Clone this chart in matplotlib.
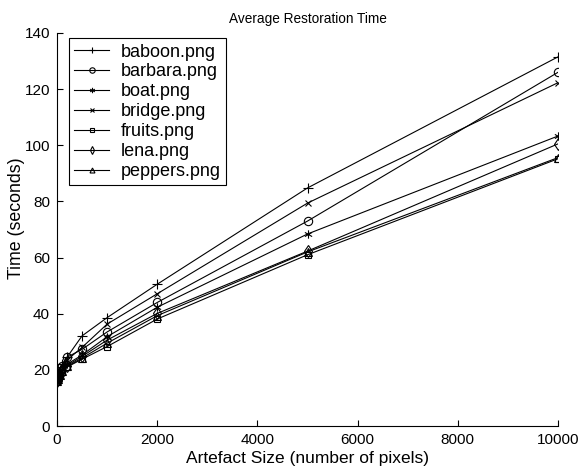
import numpy as np
import matplotlib
matplotlib.use('Agg')
import matplotlib.pyplot as plt
from matplotlib.path import Path

plt.rcParams['font.family'] = ['Liberation Sans', 'DejaVu Sans']

# artefact sizes (pixels)
sizes = [1, 10, 25, 50, 100, 200, 500, 1000, 2000, 5000, 10000]

# average restoration time (seconds) per image
baboon = [16.5, 17.5, 18.5, 20.0, 22.0, 24.5, 32.1, 38.6, 50.5, 84.8, 131.5]
barbara = [16.2, 17.0, 18.0, 19.5, 21.5, 24.5, 27.3, 33.5, 44.0, 73.0, 126.0]
boat = [16.0, 16.8, 17.5, 18.5, 20.0, 22.0, 25.3, 31.8, 42.3, 68.4, 103.3]
bridge = [16.3, 17.2, 18.2, 19.5, 21.5, 23.5, 28.0, 36.3, 47.1, 79.4, 122.3]
fruits = [15.8, 16.5, 17.2, 18.0, 19.3, 21.0, 23.8, 28.3, 38.1, 61.0, 95.2]
lena = [16.0, 16.7, 17.4, 18.3, 19.8, 21.5, 24.8, 30.6, 40.1, 62.3, 100.5]
peppers = [15.9, 16.6, 17.3, 18.2, 19.5, 21.2, 24.2, 29.5, 39.3, 62.0, 95.6]

names = ['baboon.png', 'barbara.png', 'boat.png', 'bridge.png',
         'fruits.png', 'lena.png', 'peppers.png']
series = [baboon, barbara, boat, bridge, fruits, lena, peppers]

# matlab style asterisk: three crossing strokes
ang = np.deg2rad([90, 30, 150])
verts, codes = [], []
for a in ang:
    verts += [(np.cos(a), np.sin(a)), (-np.cos(a), -np.sin(a))]
    codes += [Path.MOVETO, Path.LINETO]
star = Path(verts, codes)

markers = ['+', 'o', star, 'x', 's', 'd', '^']
msizes = [7, 6, 6, 5, 4.5, 6, 5.5]

fig = plt.figure(figsize=(5.84, 4.73), dpi=100)
ax = fig.add_axes([57 / 584, 47 / 473, 501 / 584, 393 / 473])

for name, vals, m, ms in zip(names, series, markers, msizes):
    ax.plot(sizes, vals, color='black', linewidth=0.8, marker=m,
            markersize=ms, markerfacecolor='none', markeredgecolor='black',
            markeredgewidth=0.8, label=name)

ax.set_xlim(0, 10000)
ax.set_ylim(0, 140)
ax.set_xticks(np.arange(0, 10001, 2000))
ax.set_yticks(np.arange(0, 141, 20))
ax.spines['top'].set_visible(False)
ax.spines['right'].set_visible(False)
ax.tick_params(direction='in', labelsize=11, length=4, pad=5)

ax.set_title('Average Restoration Time', fontsize=9.8, pad=7)
ax.set_xlabel('Artefact Size (number of pixels)', fontsize=12.5, labelpad=3)
ax.set_ylabel('Time (seconds)', fontsize=12.8)
ax.yaxis.set_label_coords(-0.064, 0.53)

leg = ax.legend(loc='upper left', fontsize=13, fancybox=False, framealpha=1,
                edgecolor='black', handlelength=1.9, borderpad=0.3,
                labelspacing=0.16, handletextpad=0.65, markerscale=0.65,
                borderaxespad=0, bbox_to_anchor=(0.024, 0.987))
leg.get_frame().set_linewidth(0.8)

fig.savefig('out.png', dpi=100)
